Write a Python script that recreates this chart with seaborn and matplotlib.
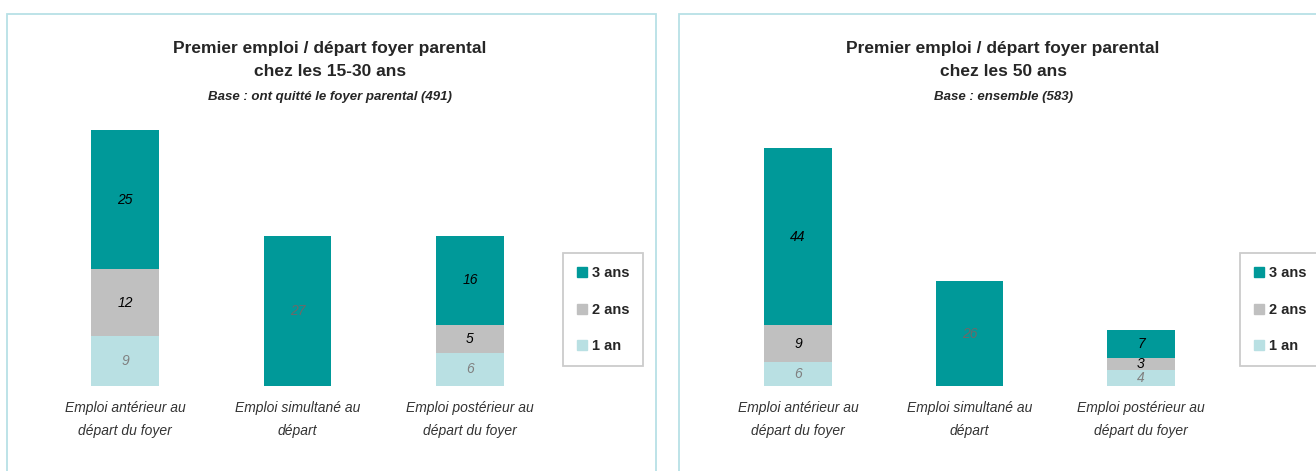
import pandas as pd
import seaborn as sns
import matplotlib.pyplot as plt
from matplotlib.patches import Rectangle
from matplotlib.lines import Line2D

# Data
categories = ["Emploi antérieur au\ndépart du foyer",
              "Emploi simultané au\ndépart",
              "Emploi postérieur au\ndépart du foyer"]
series = ["1 an", "2 ans", "3 ans"]

# 15-30 ans
young_1an = [9, 0, 6]
young_2ans = [12, 0, 5]
young_3ans = [25, 27, 16]

# 50 ans
old_1an = [6, 0, 4]
old_2ans = [9, 0, 3]
old_3ans = [44, 26, 7]

titles = ["Premier emploi / départ foyer parental\nchez les 15-30 ans",
          "Premier emploi / départ foyer parental\nchez les 50 ans"]
subtitles = ["Base : ont quitté le foyer parental (491)",
             "Base : ensemble (583)"]

colors = {"1 an": "#b9e0e3", "2 ans": "#c0c0c0", "3 ans": "#009999"}

sns.set_theme(style="white")
plt.rcParams['font.family'] = ['Liberation Sans', 'DejaVu Sans']

W, H = 1316, 471
fig = plt.figure(figsize=(W / 100, H / 100), dpi=100)
fig.patch.set_facecolor("white")


def px(x, y, w, h):
    # pixel box (top-left origin) -> figure fraction
    return [x / W, 1 - (y + h) / H, w / W, h / H]


# panel frames
for x0, x1 in [(7, 656), (679, 1330)]:
    fig.patches.append(Rectangle((x0 / W, -0.1), (x1 - x0) / W, 1 - 14 / H + 0.1,
                                 transform=fig.transFigure, fill=False,
                                 edgecolor="#b7e1e6", lw=1.3))

panels = [
    dict(v1=young_1an, v2=young_2ans, v3=young_3ans, left=38.75, width=517.5, top=130,
         tx=330, leg=(563, 253)),
    dict(v1=old_1an, v2=old_2ans, v3=old_3ans, left=712.25, width=514.5, top=148,
         tx=1003, leg=(1240, 253)),
]

for i, p in enumerate(panels):
    df = pd.DataFrame({"cat": categories, "s1": p["v1"], "s2": p["v2"], "s3": p["v3"]})
    df["c2"] = df["s1"] + df["s2"]
    df["c3"] = df["c2"] + df["s3"]
    ymax = df["c3"].max()

    ax = fig.add_axes(px(p["left"], p["top"], p["width"], 386 - p["top"]))
    for col, key in [("c3", "3 ans"), ("c2", "2 ans"), ("s1", "1 an")]:
        sns.barplot(data=df, x="cat", y=col, order=categories, color=colors[key],
                    width=0.394, saturation=1, linewidth=0, ax=ax)
    ax.set_xlim(-0.5, 2.5)
    ax.set_ylim(0, ymax)
    ax.set_xlabel("")
    ax.set_ylabel("")
    ax.set_yticks([])
    sns.despine(ax=ax, left=True, bottom=True)
    ax.tick_params(axis="x", length=0, pad=11)
    for lab in ax.get_xticklabels():
        lab.set_fontstyle("italic")
        lab.set_fontsize(10)
        lab.set_color("#333333")
        lab.set_linespacing(1.75)

    # value labels
    for j in range(len(categories)):
        a, b, c = df.loc[j, "s1"], df.loc[j, "s2"], df.loc[j, "s3"]
        if a > 0:
            ax.text(j, a / 2, str(a), ha="center", va="center", fontsize=10,
                    style="italic", color="#808080", zorder=5)
        if b > 0:
            ax.text(j, a + b / 2, str(b), ha="center", va="center", fontsize=10,
                    style="italic", color="black", zorder=5)
        tc = "#6a6a6a" if (a == 0 and b == 0) else "black"
        ax.text(j, a + b + c / 2, str(c), ha="center", va="center", fontsize=10,
                style="italic", color=tc, zorder=5)

    # titles
    fig.text(p["tx"] / W, 1 - 60 / H, titles[i], ha="center", va="center",
             fontsize=12.5, fontweight="bold", linespacing=1.75)
    fig.text(p["tx"] / W, 1 - 97 / H, subtitles[i], ha="center", va="center",
             fontsize=9.5, fontweight="bold", style="italic")

    handles = [Line2D([0], [0], marker="s", linestyle="", markersize=7,
                      markerfacecolor=colors[s], markeredgecolor=colors[s])
               for s in ["3 ans", "2 ans", "1 an"]]
    lx, ly = p["leg"]
    leg = fig.legend(handles, ["3 ans", "2 ans", "1 an"], loc="upper left",
                     bbox_to_anchor=(lx / W, 1 - ly / H), frameon=True, fancybox=False,
                     edgecolor="#bfbfbf", handlelength=0.8, handletextpad=0.3,
                     labelspacing=1.55, borderpad=0.9, borderaxespad=0,
                     prop={"weight": "bold", "size": 10.5})
    leg.get_frame().set_linewidth(1.3)

fig.savefig("out.png", dpi=100)
